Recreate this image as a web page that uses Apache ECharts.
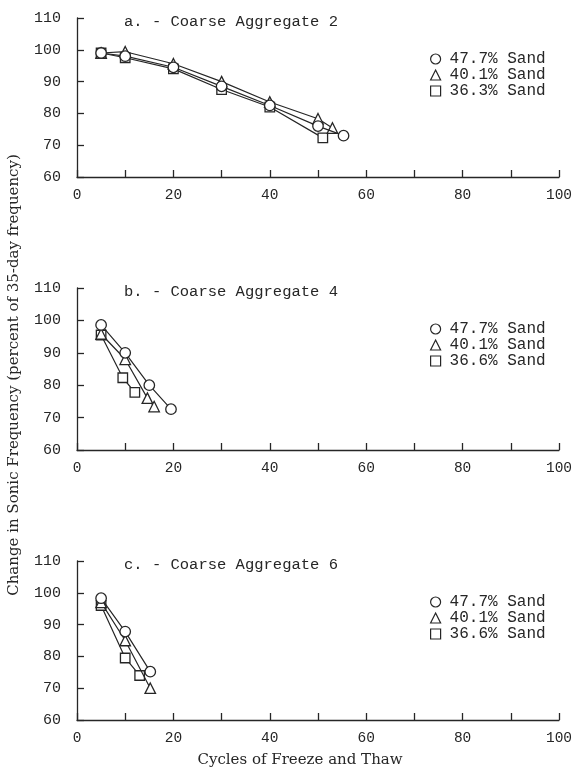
<!DOCTYPE html>
<html>
<head>
<meta charset="utf-8">
<script src="https://cdn.jsdelivr.net/npm/echarts@6/dist/echarts.min.js"></script>
<style>
  html, body { margin: 0; padding: 0; background: #fff; }
  #chart { width: 577px; height: 770px; }
</style>
</head>
<body>
<div id="chart"></div>
<script>
// Sonic frequency change vs. freeze–thaw cycles, three coarse aggregates
const panelTitles = ['a. - Coarse Aggregate 2', 'b. - Coarse Aggregate 4', 'c. - Coarse Aggregate 6'];
const sandLabels = [
  ['47.7% Sand', '40.1% Sand', '36.3% Sand'],
  ['47.7% Sand', '40.1% Sand', '36.6% Sand'],
  ['47.7% Sand', '40.1% Sand', '36.6% Sand']
];
const xTicks = [0, 20, 40, 60, 80, 100];
const yTicks = [60, 70, 80, 90, 100, 110];
const xTitle = 'Cycles of Freeze and Thaw';
const yTitle = 'Change in Sonic Frequency (percent of 35-day frequency)';

// [cycles, percent of 35-day frequency]
const aCircle   = [[5, 99], [10, 98], [20, 94.5], [30, 88.5], [40, 82.5], [50, 76], [55.3, 73]];
const aTriangle = [[5, 99], [10, 99.4], [20, 95.6], [30, 90], [40, 83.6], [50, 78.3], [53, 75.4]];
const aSquare   = [[5, 99], [10, 97.5], [20, 94], [30, 87.5], [40, 82], [51, 72.3]];

const bCircle   = [[5, 98.6], [10, 90], [15, 80], [19.5, 72.6]];
const bTriangle = [[5, 95.8], [10, 88], [14.6, 76], [16, 73.4]];
const bSquare   = [[5, 95.5], [9.5, 82.3], [12, 77.8]];

const cCircle   = [[5, 98.3], [10, 87.8], [15.2, 75.2]];
const cTriangle = [[5, 97], [10, 85], [15.2, 70]];
const cSquare   = [[5, 96], [10, 79.5], [13, 74]];

const panelData = [
  [aCircle, aTriangle, aSquare],
  [bCircle, bTriangle, bSquare],
  [cCircle, cTriangle, cSquare]
];
const symbols = ['circle', 'triangle', 'rect'];
const symbolSizes = [10.5, 10.5, 9.5];

const ink = '#262626';
const mono = '"Liberation Mono", "DejaVu Sans Mono", monospace';
const serif = '"DejaVu Serif", "Liberation Serif", serif';

const gridTops = [18, 288, 561];
const gridHeights = [159, 162, 159];

const grids = gridTops.map((t, i) => ({
  left: 77, right: 18, top: t, height: gridHeights[i],
  containLabel: false, outerBoundsMode: 'none'
}));

const xAxes = grids.map((g, i) => ({
  type: 'value', gridIndex: i, min: 0, max: 100, interval: 10,
  axisLine: { lineStyle: { color: ink, width: 1.3 } },
  axisTick: { inside: true, length: 7, lineStyle: { color: ink, width: 1.3 } },
  splitLine: { show: false },
  axisLabel: {
    margin: 11, color: ink, fontFamily: mono, fontSize: 14.5,
    formatter: v => (xTicks.indexOf(v) >= 0 ? String(v) : '')
  }
}));

const yAxes = grids.map((g, i) => ({
  type: 'value', gridIndex: i, min: yTicks[0], max: yTicks[yTicks.length - 1], interval: 10,
  axisLine: { show: true, lineStyle: { color: ink, width: 1.3 } },
  axisTick: { show: true, inside: true, length: 7, lineStyle: { color: ink, width: 1.3 } },
  splitLine: { show: false },
  axisLabel: { margin: 16, color: ink, fontFamily: mono, fontSize: 15 }
}));

const series = [];
panelData.forEach((sets, p) => {
  sets.forEach((pts, k) => {
    series.push({
      type: 'line',
      name: sandLabels[p][k] + (p ? ' ' + p : ''),
      xAxisIndex: p, yAxisIndex: p,
      data: pts,
      symbol: symbols[k], symbolSize: symbolSizes[k],
      showAllSymbol: true,
      lineStyle: { color: ink, width: 1.2 },
      itemStyle: { color: '#fff', borderColor: ink, borderWidth: 1.3 },
      z: 3 - k,
      animation: false
    });
  });
});

const legends = panelData.map((sets, p) => ({
  orient: 'vertical',
  left: 430, top: gridTops[p] + 33,
  padding: 0,
  itemWidth: 10, itemHeight: 10, itemGap: 0,
  data: sets.map((s, k) => ({ name: sandLabels[p][k] + (p ? ' ' + p : ''), icon: symbols[k] })),
  formatter: name => name.replace(/ \d$/, ''),
  textStyle: { fontFamily: mono, fontSize: 16, lineHeight: 15, color: ink, padding: [0, 0, 0, 4] },
  itemStyle: { color: '#fff', borderColor: ink, borderWidth: 1.2 },
  selectedMode: false
}));

const titles = panelTitles.map((t, p) => ({
  text: t, left: 119, top: gridTops[p] - 9,
  textStyle: { fontFamily: mono, fontSize: 15.5, fontWeight: 'normal', color: ink }
}));

const chart = echarts.init(document.getElementById('chart'), null, { renderer: 'canvas' });
chart.setOption({
  backgroundColor: '#fff',
  animation: false,
  title: titles,
  legend: legends,
  grid: grids,
  xAxis: xAxes,
  yAxis: yAxes,
  series: series,
  graphic: [
    {
      type: 'text', x: 300, y: 760,
      style: { text: xTitle, font: '15px ' + serif, fill: ink, align: 'center', verticalAlign: 'middle' }
    },
    {
      type: 'text', x: 14, y: 375, rotation: Math.PI / 2,
      style: { text: yTitle, font: '15px ' + serif, fill: ink, align: 'center', verticalAlign: 'middle' }
    }
  ]
});
</script>
</body>
</html>
